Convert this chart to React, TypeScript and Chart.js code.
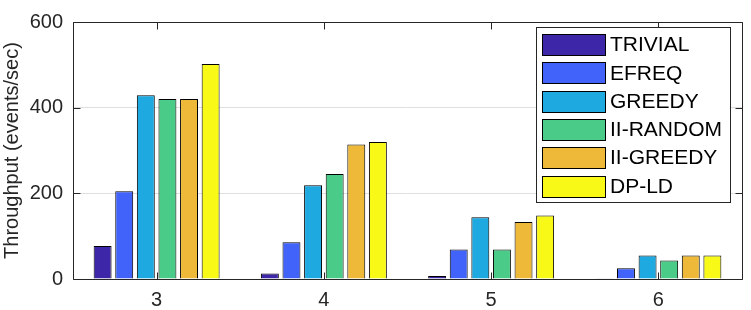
import React, { useEffect, useRef } from 'react';
import { Chart, registerables } from 'chart.js';

Chart.register(...registerables);

const categories = ['3', '4', '5', '6'];
const seriesNames = ['TRIVIAL', 'EFREQ', 'GREEDY', 'II-RANDOM', 'II-GREEDY', 'DP-LD'];
const trivial = [77, 13, 7, 2];
const efreq = [205, 86, 69, 25];
const greedy = [429, 219, 144, 55];
const iiRandom = [420, 245, 69, 43];
const iiGreedy = [420, 314, 133, 55];
const dpLd = [502, 320, 148, 55];
const yTicks = [0, 200, 400, 600];
const yTitle = 'Throughput (events/sec)';
const colors = ['#3e26a8', '#4263f9', '#1ea9e0', '#4acb87', '#eeb938', '#f9f917'];

const FONT = "'Liberation Sans', Arial, Helvetica, sans-serif";
const AXIS = '#262626';

const framePlugin = {
  id: 'matlabFrame',
  afterDraw(chart: any) {
    const ctx = chart.ctx;
    const { left, right, top, bottom } = chart.chartArea;
    const xs = chart.scales.x;
    const ys = chart.scales.y;
    ctx.save();
    ctx.strokeStyle = AXIS;
    ctx.lineWidth = 1;
    const L = Math.round(left) + 0.5;
    const R = Math.round(right) + 0.5;
    const T = Math.round(top) + 0.5;
    const B = Math.round(bottom) + 0.5;
    ctx.beginPath();
    ctx.rect(L, T, R - L, B - T);
    ctx.stroke();
    const tl = 7;
    ctx.beginPath();
    yTicks.forEach((v) => {
      const p = Math.round(ys.getPixelForValue(v)) + 0.5;
      ctx.moveTo(L, p); ctx.lineTo(L + tl, p);
      ctx.moveTo(R, p); ctx.lineTo(R - tl, p);
    });
    categories.forEach((_, i) => {
      const p = Math.round(xs.getPixelForValue(i)) + 0.5;
      ctx.moveTo(p, B); ctx.lineTo(p, B - tl);
      ctx.moveTo(p, T); ctx.lineTo(p, T + tl);
    });
    ctx.stroke();

    // legend
    const bx = 536.5, by = 27.5, bw = 194, bh = 175;
    ctx.fillStyle = '#ffffff';
    ctx.fillRect(bx, by, bw, bh);
    ctx.strokeStyle = AXIS;
    ctx.strokeRect(bx, by, bw, bh);
    ctx.font = `21px ${FONT}`;
    ctx.textBaseline = 'middle';
    ctx.textAlign = 'left';
    chart.data.datasets.forEach((ds: any, i: number) => {
      const sy = 34 + i * 28.3;
      ctx.fillStyle = ds.backgroundColor;
      ctx.fillRect(542.5, Math.round(sy) + 0.5, 63, 21);
      ctx.strokeStyle = '#000';
      ctx.strokeRect(542.5, Math.round(sy) + 0.5, 63, 21);
      ctx.fillStyle = '#000';
      ctx.fillText(ds.label, 610, sy + 11.5);
    });
    ctx.restore();
  },
};

export default function App() {
  const ref = useRef<HTMLCanvasElement>(null);
  useEffect(() => {
    const seriesData = [trivial, efreq, greedy, iiRandom, iiGreedy, dpLd];
    const chart = new Chart(ref.current!, {
      type: 'bar',
      data: {
        labels: categories,
        datasets: seriesNames.map((name, i) => ({
          label: name,
          data: seriesData[i],
          backgroundColor: colors[i],
          borderColor: '#000',
          borderWidth: 1,
          categoryPercentage: 0.775,
          barPercentage: 0.83,
        })),
      },
      options: {
        responsive: false,
        animation: false,
        layout: { padding: { top: 7, right: 9, left: 0, bottom: 0 } },
        plugins: { legend: { display: false }, tooltip: { enabled: false } },
        scales: {
          x: {
            grid: { display: false, drawTicks: false },
            border: { display: false },
            ticks: { font: { family: FONT, size: 20 }, color: AXIS, padding: 9 },
            afterFit: (s: any) => { s.height = 31; },
          },
          y: {
            min: 0,
            max: 600,
            afterBuildTicks: (s: any) => { s.ticks = yTicks.map((v) => ({ value: v })); },
            grid: { color: '#dfdfdf', drawTicks: false },
            border: { display: false },
            ticks: { font: { family: FONT, size: 20 }, color: AXIS, padding: 10 },
            title: { display: true, text: yTitle, font: { family: FONT, size: 20 }, color: AXIS, padding: { top: 0, bottom: 0 } },
            afterFit: (s: any) => { s.width = 73; },
          },
        },
      },
      plugins: [framePlugin],
    });
    return () => chart.destroy();
  }, []);
  return (
    <div style={{ position: 'absolute', left: 0, top: 0, width: 751, height: 310, background: '#fff' }}>
      <canvas ref={ref} width={751} height={310} style={{ display: 'block' }} />
    </div>
  );
}
